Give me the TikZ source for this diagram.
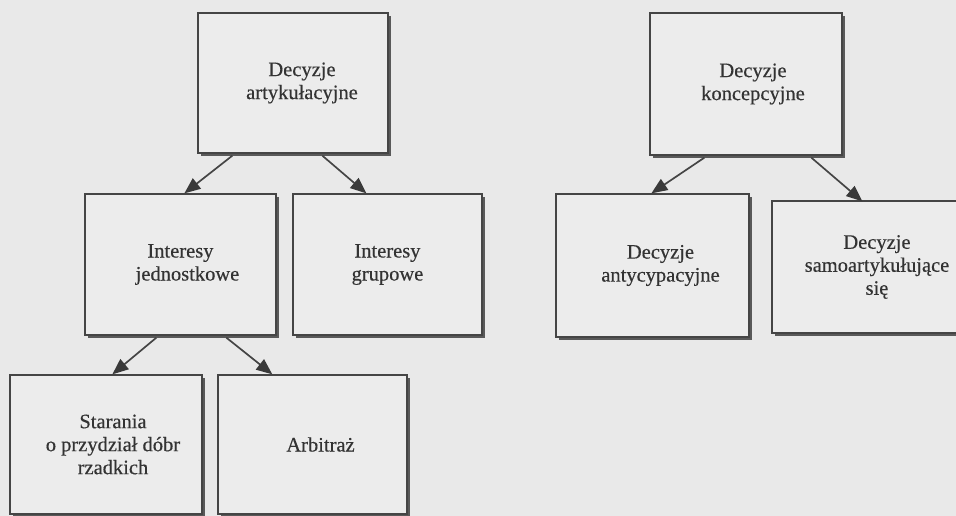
\documentclass[tikz,border=0pt]{standalone}
\usepackage{fontspec}
\setmainfont{Liberation Serif}
\newfontfamily\boxfont{Liberation Serif}[FakeBold=0.4]
\usetikzlibrary{arrows.meta,shadows}
\definecolor{bgc}{HTML}{E9E9E9}
\definecolor{boxc}{HTML}{ECECEC}
\definecolor{linec}{HTML}{454545}
\definecolor{tipc}{HTML}{3A3A3A}
\definecolor{textc}{HTML}{333333}
\begin{document}
\begin{tikzpicture}[x=1pt,y=-1pt,
  box/.style={draw=linec, line width=1.3pt, fill=boxc, inner sep=0pt,
    minimum width=190pt, minimum height=140pt, align=center,
    text=textc, font=\boxfont\fontsize{20.5}{23}\selectfont,
    drop shadow={shadow xshift=3pt, shadow yshift=-3pt, fill=black!65, opacity=1}},
  arr/.style={draw=linec, line width=1.7pt, -{Triangle[length=16pt,width=13pt,fill=tipc,color=tipc]}}]
\useasboundingbox (0,0) rectangle (956,516);
\fill[bgc] (0,0) rectangle (956,516);
\clip (0,0) rectangle (956,516);
% top level
\node[box] (A) at (293,83) {\hspace*{18pt}Decyzje\\\hspace*{18pt}artykułacyjne};
\node[box, minimum width=192pt, minimum height=142pt] (F) at (746,84) {\hspace*{14pt}Decyzje\\\hspace*{14pt}koncepcyjne};
% second level
\node[box, minimum width=191pt, minimum height=141pt] (B) at (180.5,264.5) {Interesy\\\hspace*{14pt}jednostkowe};
\node[box, minimum width=189pt, minimum height=141pt] (C) at (387.5,264.5) {Interesy\\grupowe};
\node[box, minimum width=193pt, minimum height=143pt] (G) at (652.5,265.5) {\hspace*{16pt}Decyzje\\\hspace*{16pt}antycypacyjne};
\node[box, minimum width=210pt, minimum height=132pt] (H) at (877,267) {Decyzje\\samoartykułujące\\się};
% third level
\node[box, minimum width=192pt, minimum height=139pt] (D) at (106,444.5) {\hspace*{14pt}Starania\\\hspace*{14pt}o przydział dóbr\\\hspace*{14pt}rzadkich};
\node[box, minimum width=189pt, minimum height=139pt] (E) at (312.5,444.5) {\hspace*{16pt}Arbitraż};
% connectors
\draw[arr] ([xshift=35pt,yshift=-2pt]A.south west) -- ([xshift=100pt]B.north west);
\draw[arr] ([xshift=125pt,yshift=-2pt]A.south west) -- ([xshift=74pt]C.north west);
\draw[arr] ([xshift=72pt,yshift=-2pt]B.south west) -- ([xshift=103pt]D.north west);
\draw[arr] ([xshift=142pt,yshift=-2pt]B.south west) -- ([xshift=55pt]E.north west);
\draw[arr] ([xshift=55pt,yshift=-2pt]F.south west) -- ([xshift=96pt]G.north west);
\draw[arr] ([xshift=162pt,yshift=-2pt]F.south west) -- ([xshift=91pt,yshift=-1pt]H.north west);
\end{tikzpicture}
\end{document}
